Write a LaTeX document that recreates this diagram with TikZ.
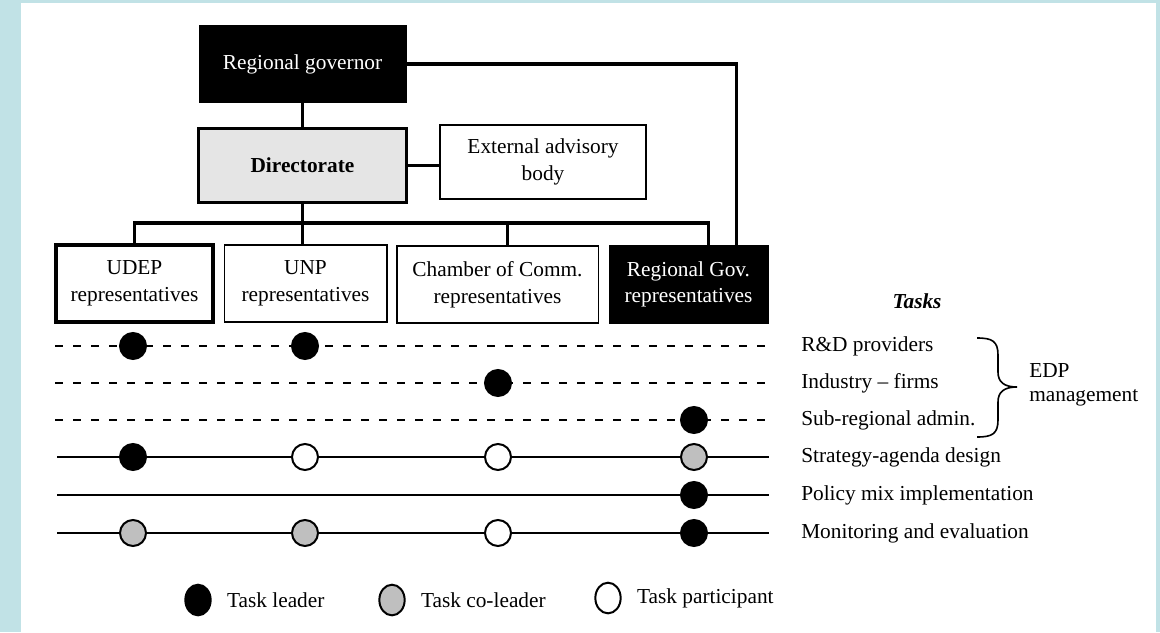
\documentclass[tikz,border=0pt]{standalone}
\usepackage{fontspec}
\setmainfont{Liberation Serif}
\usetikzlibrary{positioning, shapes.geometric, calc}
\definecolor{bgblue}{RGB}{193,226,230}
\definecolor{dirgray}{RGB}{229,229,229}
\definecolor{cogray}{RGB}{191,191,191}
\tikzset{
    box/.style={draw, line width=1pt, inner sep=0pt, align=center, minimum width=#1, minimum height=57.75pt, font=\fontsize{16}{20}\selectfont},
    link/.style={line width=2.6pt},
    dashrow/.style={line width=1.5pt, dash pattern=on 6pt off 7.5pt},
    fullrow/.style={line width=1.5pt},
    lead/.style={circle, draw, line width=1.5pt, fill=black, inner sep=0pt, minimum size=19.5pt},
    colead/.style={lead, fill=cogray},
    part/.style={lead, fill=white},
    keymark/.style={ellipse, minimum width=19pt, minimum height=23pt},
    tasklbl/.style={anchor=west, inner sep=0pt}
}

\begin{document}
\begin{tikzpicture}[x=0.75pt, y=-0.75pt, font=\fontsize{16}{19}\selectfont]
    %Frame
    \fill[bgblue] (0,0) rectangle (1160,632);
    \fill[white] (21,3) rectangle (1156,632);
    \useasboundingbox (0,0) rectangle (1160,632);

    %Units
    \node[box=155pt, minimum height=57pt, fill=black, text=white] (gov) at (302.5,64) {Regional governor};
    \node[box=156pt, minimum height=55pt, fill=dirgray, line width=2.4pt] (dir) at (302.5,165.5) {\textbf{Directorate}};
    \node[box=154.5pt, minimum height=55.5pt] (adv) at (543,162) {External advisory\\body};
    \node[box=118pt, line width=2.6pt] (udep) at (134.5,283.5) {UDEP\\representatives};
    \node[box=122pt] (unp) at (305.5,283.5) {UNP\\representatives};
    \node[box=151pt] (chamber) at (497.5,284.5) {Chamber of Comm.\\representatives};
    \node[box=119pt, fill=black, text=white] (rgov) at (688.5,284.5) {Regional Gov.\\representatives};

    %Links
    \coordinate (bus) at (0,223);
    \coordinate (chin) at ($(chamber.north)+(10,0)$);
    \coordinate (rgin) at ($(rgov.north)+(20,0)$);
    \draw[link] (gov.south) -- (gov.south |- dir.north);
    \draw[link] (gov.east) -| ($(rgov.north east)+(-32,0)$);
    \draw[link] (dir.east) -- (dir.east -| adv.west);
    \draw[link] (udep.north) |- (rgin |- bus) -- (rgin);
    \draw[link] (dir.south) -- (dir.south |- unp.north);
    \draw[link] (chin |- bus) -- (chin);

    %Rows (columns and lines)
    \coordinate (c1) at (133,0);
    \coordinate (c2) at (305,0);
    \coordinate (c3) at (498,0);
    \coordinate (c4) at (694,0);
    \coordinate (r1) at (55,346);
    \coordinate (r2) at (55,383);
    \coordinate (r3) at (55,420);
    \coordinate (r4) at (57,457);
    \coordinate (r5) at (57,495);
    \coordinate (r6) at (57,533);
    \draw[dashrow] (r1) -- ++(714,0) coordinate (r1e);
    \draw[dashrow] (r2) -- ++(714,0) coordinate (r2e);
    \draw[dashrow] (r3) -- ++(714,0) coordinate (r3e);
    \draw[fullrow] (r4) -- ++(712,0) coordinate (r4e);
    \draw[fullrow] (r5) -- ++(712,0) coordinate (r5e);
    \draw[fullrow] (r6) -- ++(712,0) coordinate (r6e);

    %Marks
    \node[lead] (m11) at (c1 |- r1) {};
    \node[lead] (m12) at (c2 |- r1) {};
    \node[lead] (m23) at (c3 |- r2) {};
    \node[lead] (m34) at (c4 |- r3) {};
    \node[lead] (m41) at (c1 |- r4) {};
    \node[part] (m42) at (c2 |- r4) {};
    \node[part] (m43) at (c3 |- r4) {};
    \node[colead] (m44) at (c4 |- r4) {};
    \node[lead] (m54) at (c4 |- r5) {};
    \node[colead] (m61) at (c1 |- r6) {};
    \node[colead] (m62) at (c2 |- r6) {};
    \node[part] (m63) at (c3 |- r6) {};
    \node[lead] (m64) at (c4 |- r6) {};

    %Tasks
    \node[font=\fontsize{16}{19}\selectfont\bfseries\itshape] (tasks) at (917,301) {Tasks};
    \node[tasklbl] (t1) at ($(r1e)+(32,0)$) {R\&D providers};
    \node[tasklbl] (t2) at ($(r2e)+(32,0)$) {Industry -- firms};
    \node[tasklbl] (t3) at ($(r3e)+(32,0)$) {Sub-regional admin.};
    \node[tasklbl] (t4) at ($(r4e)+(32,0)$) {Strategy-agenda design};
    \node[tasklbl] (t5) at ($(r5e)+(32,0)$) {Policy mix implementation};
    \node[tasklbl] (t6) at ($(r6e)+(32,0)$) {Monitoring and evaluation};
    \draw[line width=1.2pt] (977,338) .. controls (992,338) and (998,341) .. (998,355) -- (998,372)
        .. controls (998,382) and (1004,387) .. (1017,387)
        .. controls (1004,387) and (998,392) .. (998,402) -- (998,420)
        .. controls (998,434) and (992,437) .. (977,437);
    \node[tasklbl, align=left, font=\fontsize{16}{18}\selectfont] (edp) at (1029,385) {EDP\\management};

    %Legend
    \node[lead, keymark] (kl) at (198,600) {};
    \node[right=8pt of kl] (klt) {Task leader};
    \node[colead, keymark] (kc) at (392,600) {};
    \node[right=8pt of kc] (kct) {Task co-leader};
    \node[part, keymark] (kp) at (608,598) {};
    \node[right=8pt of kp] (kpt) {Task participant};
\end{tikzpicture}
\end{document}
